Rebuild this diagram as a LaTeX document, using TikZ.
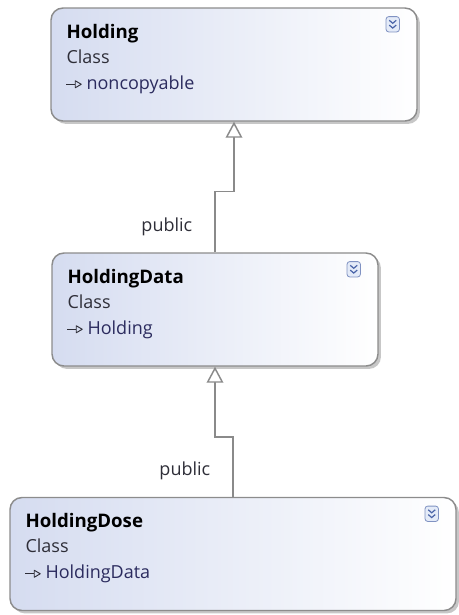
\documentclass[tikz,border=0pt]{standalone}
\usepackage{fontspec}
\setmainfont{Open Sans}
\usetikzlibrary{arrows.meta, shadows, positioning, calc}
\definecolor{boxleft}{HTML}{D5DCF0}
\definecolor{boxedge}{HTML}{8C8C8C}
\definecolor{linkgray}{HTML}{8A8A8A}
\definecolor{namenavy}{HTML}{2B2B5E}
\definecolor{kindgray}{HTML}{2E2E38}
\definecolor{iconblue}{HTML}{4A64A8}
\definecolor{iconfill}{HTML}{E4EBF8}

\begin{document}
\begin{tikzpicture}[x=0.75pt, y=-0.75pt,
    classbox/.style={draw=boxedge, line width=1.1pt, rounded corners=9pt, left color=boxleft, right color=white,
      minimum height=84.75pt, inner sep=0pt,
      drop shadow={shadow xshift=2.2pt, shadow yshift=-2.2pt, fill=black!22, opacity=1}},
    title/.style={anchor=base west, inner sep=0pt, font=\fontsize{14}{17}\selectfont\bfseries},
    kind/.style={anchor=base west, inner sep=0pt, font=\fontsize{13.5}{16}\selectfont, text=kindgray},
    parent/.style={anchor=base west, inner sep=0pt, font=\fontsize{13.5}{16}\selectfont, text=namenavy},
    inherit/.style={draw=linkgray, line width=1.1pt, -{Triangle[open, length=12pt, width=12.5pt, fill=white]}},
    pub/.style={anchor=south east, inner sep=0pt, xshift=-16.5pt, yshift=12pt, font=\fontsize{13.5}{16}\selectfont, text=kindgray},
    expander/.style={draw=iconblue!70, fill=iconfill, rounded corners=2pt, line width=0.6pt,
      minimum width=10pt, minimum height=11.5pt, inner sep=0pt}
  ]
  \useasboundingbox (0,0) rectangle (458,615);

  % Clases
  \node[classbox, minimum width=274.5pt] (holding) at (234,64.5) {};
  \node[classbox, minimum width=244.5pt] (data) at (215,309.5) {};
  \node[classbox, minimum width=334.5pt] (dose) at (233,554) {};

  % Textos de cada clase
  \node[title] (holdingname) at ($(holding.north west)+(16,31)$) {Holding};
  \node[kind] (holdingkind) at ($(holding.north west)+(16,56)$) {Class};
  \node[parent] (holdingbase) at ($(holding.north west)+(36,82)$) {noncopyable};

  \node[title] (dataname) at ($(data.north west)+(16,31)$) {HoldingData};
  \node[kind] (datakind) at ($(data.north west)+(16,56)$) {Class};
  \node[parent] (database) at ($(data.north west)+(36,82)$) {Holding};

  \node[title] (dosename) at ($(dose.north west)+(16,31)$) {HoldingDose};
  \node[kind] (dosekind) at ($(dose.north west)+(16,56)$) {Class};
  \node[parent] (dosebase) at ($(dose.north west)+(36,82)$) {HoldingData};

  % Marca de herencia y boton de expandir
  \foreach \cls in {holding,data,dose} {
    \draw[kindgray, line width=0.8pt] ($(\cls.north west)+(16,77)$) -- ++(9,0);
    \draw[kindgray, line width=0.7pt, line join=round] ($(\cls.north west)+(25,73.5)$) -- ++(6,3.5) -- ++(-6,3.5) -- cycle;
    \node[expander] (\cls icon) at ($(\cls.north east)+(-25,17)$) {};
    \draw[iconblue, line width=0.9pt] ($(\cls icon)+(-3.5,-4)$) -- ++(3.5,3) -- ++(3.5,-3);
    \draw[iconblue, line width=0.9pt] ($(\cls icon)+(-3.5,0.8)$) -- ++(3.5,3) -- ++(3.5,-3);
  }

  % Herencia publica
  \draw[inherit] (data.north) node[pub] {public} -- ++(0,-61) -| (holding.south);
  \draw[inherit] (dose.north) node[pub] {public} -- ++(0,-60) -| (data.south);
\end{tikzpicture}
\end{document}
